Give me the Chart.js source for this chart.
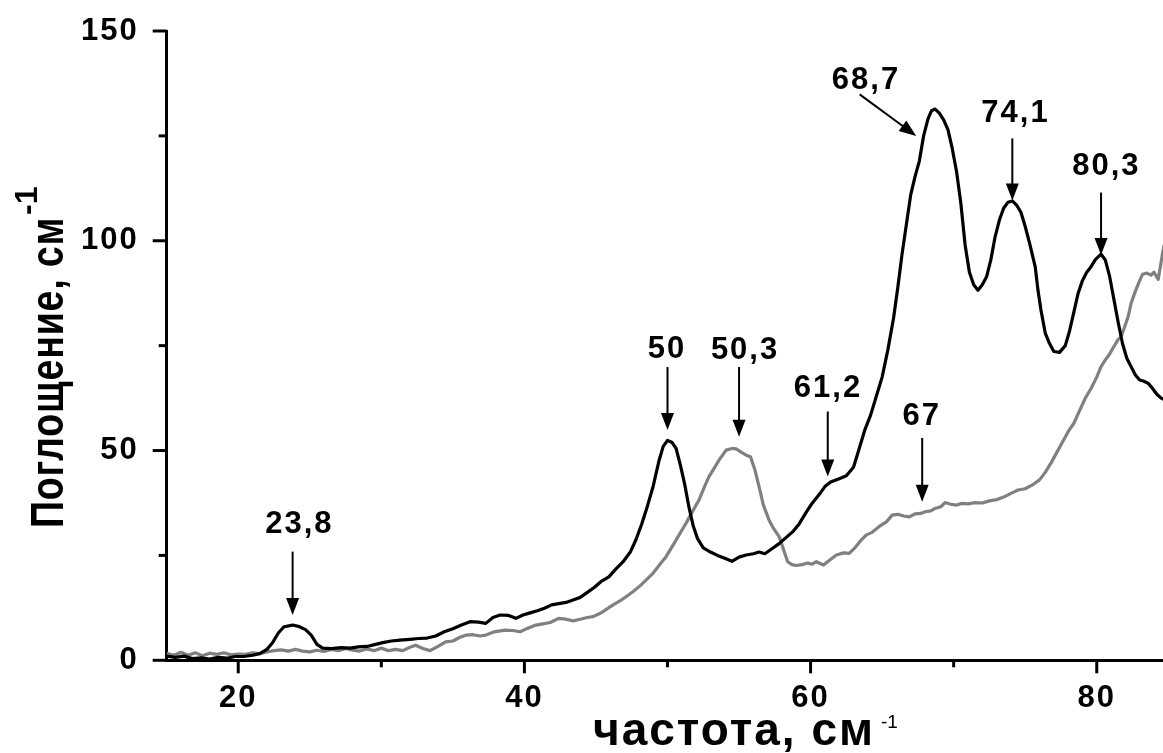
<!DOCTYPE html>
<html>
<head>
<meta charset="utf-8">
<script src="https://cdn.jsdelivr.net/npm/chart.js@4.4.0/dist/chart.umd.min.js"></script>
<style>
  html, body { margin: 0; padding: 0; background: #fff; }
  #c { display: block; }
</style>
</head>
<body>
<canvas id="c" width="1163" height="753"></canvas>
<script>
// Spectrum 1 (black): frequency, cm^-1
const blackFreq = [15.0,15.6,16.2,16.8,17.4,18.0,18.6,19.2,19.8,20.4,21.0,21.5,22.0,22.4,22.8,23.2,23.8,24.2,24.7,25.1,25.5,25.9,26.5,27.2,27.8,28.4,29.0,29.6,30.1,30.7,31.3,32.0,32.6,33.2,33.8,34.4,35.0,35.6,36.2,36.8,37.3,37.8,38.3,38.9,39.4,39.9,40.4,40.9,41.4,41.9,42.4,42.9,43.4,43.9,44.4,44.9,45.4,45.9,46.4,46.9,47.4,47.8,48.2,48.6,49.0,49.4,49.7,50.0,50.3,50.6,50.9,51.2,51.5,51.8,52.1,52.5,53.0,53.5,54.0,54.5,55.0,55.5,56.0,56.4,56.8,57.3,57.8,58.3,58.8,59.2,59.7,60.1,60.6,61.0,61.4,62.0,62.5,63.0,63.4,63.8,64.2,64.6,65.0,65.4,65.8,66.1,66.4,66.7,67.0,67.3,67.6,67.9,68.2,68.45,68.7,69.0,69.3,69.6,69.9,70.2,70.5,70.8,71.1,71.4,71.7,72.0,72.3,72.6,72.9,73.2,73.5,73.8,74.1,74.4,74.7,75.0,75.3,75.7,75.9,76.1,76.4,76.7,77.0,77.4,77.8,78.1,78.4,78.7,79.0,79.3,79.6,79.9,80.3,80.6,80.9,81.2,81.5,81.8,82.1,82.4,82.7,83.0,83.3,83.6,83.9,84.2,84.5,84.8];
// Spectrum 1 (black): absorption, cm^-1
const blackAbs = [1.0,0.7,1.0,0.4,0.6,0.3,0.7,0.5,0.9,0.9,1.2,1.6,2.6,4.2,6.5,8.0,8.4,8.1,7.3,6.0,3.8,2.9,2.8,3.0,2.9,3.2,3.3,3.8,4.2,4.6,4.8,5.0,5.2,5.3,5.8,6.8,7.5,8.4,9.2,9.1,8.8,10.2,10.8,10.7,10.0,10.8,11.3,11.8,12.4,13.2,13.5,13.8,14.4,15.0,16.2,17.4,18.9,19.9,21.8,23.5,25.8,28.8,32.5,36.8,41.5,47.5,51.0,52.4,52.0,50.5,46.5,42.0,36.5,32.0,29.0,26.8,25.8,25.0,24.3,23.6,24.6,25.1,25.4,25.8,25.4,26.6,27.8,29.3,30.8,32.5,35.3,37.4,39.5,41.4,42.5,43.3,44.0,46.0,50.5,55.0,58.5,63.0,67.5,74.0,81.6,89.0,97.0,104.0,111.0,115.3,119.0,125.0,129.0,131.0,131.4,130.4,128.8,126.5,122.0,116.5,109.0,99.0,92.5,89.5,88.2,89.5,91.4,95.5,101.0,105.0,107.8,109.2,109.5,108.5,106.8,103.4,99.5,93.8,88.0,83.5,78.0,75.5,73.6,73.4,75.0,78.5,83.0,87.5,90.5,92.5,93.8,95.5,96.8,95.4,91.5,86.0,80.5,75.5,72.0,70.0,68.0,66.8,66.5,66.0,64.8,63.4,62.5,62.0];

// Spectrum 2 (grey): frequency, cm^-1
const greyFreq = [15.0,15.5,16.0,16.5,17.0,17.5,18.0,18.5,19.0,19.5,20.0,20.5,21.0,21.5,22.0,22.5,23.0,23.5,24.0,24.5,25.0,25.5,26.0,26.5,27.0,27.5,28.0,28.5,29.0,29.5,30.0,30.5,31.0,31.5,32.0,32.4,32.9,33.4,33.9,34.5,35.0,35.5,35.9,36.4,36.9,37.3,37.8,38.3,38.7,39.2,39.7,40.2,40.8,41.3,41.8,42.4,42.9,43.4,43.9,44.4,44.8,45.3,45.8,46.2,46.7,47.2,47.6,48.1,48.5,49.0,49.5,49.9,50.4,50.9,51.3,51.8,52.2,52.6,52.9,53.3,53.6,54.1,54.5,54.8,55.2,55.5,55.8,56.1,56.4,56.7,57.1,57.4,57.8,58.1,58.4,58.7,59.0,59.4,59.8,60.1,60.4,60.9,61.3,61.8,62.3,62.7,63.1,63.5,63.9,64.3,64.8,65.3,65.7,66.1,66.5,66.9,67.3,67.7,68.0,68.4,68.7,69.1,69.4,69.8,70.2,70.6,71.0,71.5,72.0,72.5,73.0,73.5,74.0,74.5,75.0,75.5,76.0,76.4,76.8,77.2,77.6,78.0,78.4,78.8,79.2,79.6,80.0,80.3,80.6,80.9,81.2,81.5,81.7,82.0,82.2,82.4,82.7,83.0,83.2,83.5,83.8,84.0,84.3,84.5,84.7];
// Spectrum 2 (grey): absorption, cm^-1
const greyAbs = [1.7,1.2,1.9,1.2,1.8,1.1,1.7,1.4,1.8,1.3,1.5,1.4,1.8,1.6,2.0,2.3,2.5,2.2,2.6,2.2,2.0,2.4,2.1,2.6,2.3,2.8,2.4,2.2,2.7,2.3,2.9,2.3,2.6,2.3,3.1,3.6,2.8,2.3,3.2,4.4,4.6,5.5,6.0,6.1,5.8,6.0,6.7,7.0,7.2,7.1,6.8,7.6,8.4,8.7,9.0,10.0,9.8,9.4,9.8,10.2,10.4,11.2,12.3,13.2,14.2,15.4,16.4,17.8,19.1,20.8,23.0,24.7,27.5,30.4,32.7,35.8,38.2,41.5,43.8,46.0,47.7,50.1,50.5,50.4,49.5,48.9,48.5,45.5,41.4,37.0,33.4,31.5,29.5,26.5,23.5,22.8,22.6,22.8,23.2,22.9,23.5,22.7,23.8,25.1,25.6,25.5,26.8,28.5,29.9,30.5,31.9,33.0,34.6,34.8,34.4,34.2,34.9,35.0,35.4,35.6,36.2,36.6,37.6,37.2,37.0,37.4,37.3,37.6,37.5,38.0,38.3,38.9,39.8,40.6,40.9,41.8,43.0,44.8,47.0,49.5,52.0,54.5,56.5,59.5,62.5,64.8,67.5,70.0,71.6,73.0,74.8,76.5,77.1,80.0,82.0,85.1,88.0,90.5,92.0,92.3,91.8,92.5,90.8,95.0,99.0];

// Axis ticks
const xMajorTicks = [20, 40, 60, 80];
const xMinorTicks = [30, 50, 70];
const yMajorTicks = [0, 50, 100, 150];
const yMinorTicks = [25, 75, 125];

// Peak annotations: text, label centre, arrow start and arrow tip (data units)
const peakText   = ['23,8', '50', '50,3', '61,2', '67', '68,7', '74,1', '80,3'];
const peakLabelX = [24.2, 49.9, 55.35, 61.15, 67.7, 63.8, 74.25, 80.6];
const peakLabelY = [33.1, 74.6, 74.4, 65.4, 58.8, 138.8, 130.9, 118.3];
const arrowFromX = [23.8, 50.0, 55.0, 61.2, 67.8, 63.43, 74.1, 80.3];
const arrowFromY = [25.9, 69.9, 69.9, 59.3, 53.0, 134.9, 124.4, 111.5];
const arrowToX   = [23.8, 50.0, 55.0, 61.2, 67.8, 67.38, 74.1, 80.3];
const arrowToY   = [10.8, 54.9, 53.3, 43.8, 37.8, 125.0, 109.6, 96.6];

const FONT = "'Liberation Sans', Arial, Helvetica, sans-serif";

function toPoints(xs, ys) { return xs.map((v, i) => ({ x: v, y: ys[i] })); }

function drawArrow(ctx, x1, y1, x2, y2) {
  const dx = x2 - x1, dy = y2 - y1;
  const len = Math.hypot(dx, dy);
  const ux = dx / len, uy = dy / len;
  const headL = 17, headW = 6.5;
  ctx.lineWidth = 2;
  ctx.beginPath();
  ctx.moveTo(x1, y1);
  ctx.lineTo(x2 - ux * (headL - 2), y2 - uy * (headL - 2));
  ctx.stroke();
  ctx.beginPath();
  ctx.moveTo(x2, y2);
  ctx.lineTo(x2 - ux * headL - uy * headW, y2 - uy * headL + ux * headW);
  ctx.lineTo(x2 - ux * headL + uy * headW, y2 - uy * headL - ux * headW);
  ctx.closePath();
  ctx.fill();
}

const decorations = {
  id: 'decorations',
  beforeDraw(chart) {
    chart.ctx.letterSpacing = '2px';
  },
  afterDraw(chart) {
    const { ctx, chartArea: a } = chart;
    const xs = chart.scales.x, ys = chart.scales.y;
    ctx.save();
    ctx.strokeStyle = '#000';
    ctx.fillStyle = '#000';

    // tick marks
    ctx.lineWidth = 3;
    ctx.lineCap = 'butt';
    const seg = (x1, y1, x2, y2) => { ctx.beginPath(); ctx.moveTo(x1, y1); ctx.lineTo(x2, y2); ctx.stroke(); };
    xMajorTicks.forEach(v => { const p = xs.getPixelForValue(v); seg(p, a.bottom, p, a.bottom + 13); });
    xMinorTicks.forEach(v => { const p = xs.getPixelForValue(v); seg(p, a.bottom, p, a.bottom + 7); });
    yMajorTicks.forEach(v => { const p = ys.getPixelForValue(v); seg(a.left - 14, p, a.left, p); });
    yMinorTicks.forEach(v => { const p = ys.getPixelForValue(v); seg(a.left - 8, p, a.left, p); });

    // peak labels and arrows
    const labelSize = 31;
    ctx.font = `bold ${labelSize}px ${FONT}`;
    ctx.textAlign = 'center';
    ctx.textBaseline = 'alphabetic';
    peakText.forEach((t, i) => {
      const cx = xs.getPixelForValue(peakLabelX[i]);
      const cy = ys.getPixelForValue(peakLabelY[i]);
      ctx.letterSpacing = '2px';
      ctx.fillText(t, cx + 1, cy + labelSize * 0.716 / 2);
      ctx.letterSpacing = '0px';
      drawArrow(ctx,
        xs.getPixelForValue(arrowFromX[i]), ys.getPixelForValue(arrowFromY[i]),
        xs.getPixelForValue(arrowToX[i]), ys.getPixelForValue(arrowToY[i]));
    });

    // x-axis title
    ctx.textAlign = 'left';
    ctx.letterSpacing = '2px';
    ctx.font = `bold 46px ${FONT}`;
    const xt = 'частота, см';
    const xw = ctx.measureText(xt).width;
    const xLeft = 593, xBase = 745;
    const sx = 282 / xw;
    ctx.save();
    ctx.translate(xLeft, xBase);
    ctx.scale(sx, 1);
    ctx.fillText(xt, 0, 0);
    ctx.restore();
    ctx.letterSpacing = '0px';
    ctx.font = `19px ${FONT}`;
    ctx.fillText('-1', xLeft + 282 + 6, xBase - 17);

    // y-axis title
    ctx.letterSpacing = '1px';
    ctx.font = `bold 46px ${FONT}`;
    const yt = 'Поглощение, см';
    const yw = ctx.measureText(yt).width;
    const sy = 311 / yw;
    ctx.save();
    ctx.translate(63, 528);
    ctx.rotate(-Math.PI / 2);
    ctx.save();
    ctx.scale(sy, 1);
    ctx.fillText(yt, 0, 0);
    ctx.restore();
    ctx.letterSpacing = '0px';
    ctx.font = `bold 32px ${FONT}`;
    ctx.fillText('-1', 313, -26);
    ctx.restore();

    ctx.restore();
  }
};

const tickFont = { family: FONT, weight: 'bold', size: 31 };

new Chart(document.getElementById('c'), {
  type: 'scatter',
  data: {
    datasets: [
      {
        label: 'black',
        data: toPoints(blackFreq, blackAbs),
        showLine: true,
        borderColor: '#000000',
        borderWidth: 3.2,
        pointRadius: 0,
        tension: 0,
        borderJoinStyle: 'round'
      },
      {
        label: 'grey',
        data: toPoints(greyFreq, greyAbs),
        showLine: true,
        borderColor: '#808080',
        borderWidth: 3.2,
        pointRadius: 0,
        tension: 0,
        borderJoinStyle: 'round'
      }
    ]
  },
  options: {
    responsive: false,
    animation: false,
    events: [],
    layout: { padding: { top: 31, right: 0, left: 0, bottom: 0 } },
    plugins: { legend: { display: false }, tooltip: { enabled: false } },
    scales: {
      x: {
        type: 'linear',
        position: 'bottom',
        min: 15,
        max: 84.63,
        grid: { display: false, drawTicks: false },
        border: { display: true, width: 3, color: '#000' },
        ticks: { color: '#000', font: tickFont, padding: 20, maxRotation: 0, autoSkip: false },
        afterBuildTicks: s => { s.ticks = xMajorTicks.map(v => ({ value: v })); },
        afterFit: s => { s.height = 92.7; s.paddingLeft = 0; s.paddingRight = 0; }
      },
      y: {
        type: 'linear',
        min: 0,
        max: 150,
        grid: { display: false, drawTicks: false },
        border: { display: true, width: 3, color: '#000' },
        ticks: { color: '#000', font: tickFont, padding: 28, autoSkip: false },
        afterBuildTicks: s => { s.ticks = yMajorTicks.map(v => ({ value: v })); },
        afterFit: s => { s.width = 166.7; s.paddingTop = 0; s.paddingBottom = 0; }
      }
    }
  },
  plugins: [decorations]
});
</script>
</body>
</html>
